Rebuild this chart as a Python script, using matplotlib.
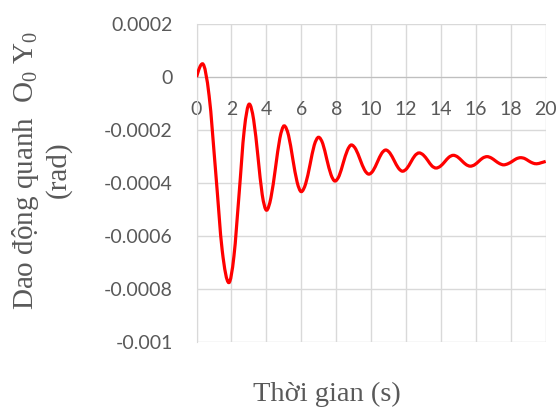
import numpy as np
import matplotlib.pyplot as plt
from matplotlib.path import Path
from matplotlib.patches import PathPatch

# Góc dao động quanh O0Y0 theo thời gian (µrad), các điểm trên đường cong
time_s = [0.00, 0.085, 0.17, 0.255, 0.34,
          0.72, 1.10, 1.47, 1.85,
          2.14, 2.44, 2.73, 3.02,
          3.27, 3.52, 3.76, 4.01,
          4.26, 4.52, 4.77, 5.02,
          5.27, 5.51, 5.76, 6.00,
          6.25, 6.50, 6.74, 6.99,
          7.23, 7.46, 7.70, 7.93,
          8.17, 8.40, 8.64, 8.87,
          9.12, 9.37, 9.62, 9.87,
          10.11, 10.36, 10.60, 10.84,
          11.08, 11.32, 11.56, 11.80,
          12.04, 12.28, 12.51, 12.75,
          12.99, 13.24, 13.48, 13.72,
          13.97, 14.22, 14.46, 14.71,
          14.95, 15.20, 15.44, 15.68,
          15.92, 16.16, 16.40, 16.64,
          16.88, 17.12, 17.35, 17.59,
          17.83, 18.08, 18.32, 18.56,
          18.79, 19.02, 19.25, 19.48,
          19.74, 20.00]

angle_urad = [0, 19, 35, 46, 50,
              -71, -362, -654, -775,
              -676, -438, -200, -102,
              -161, -302, -443, -502,
              -455, -343, -231, -184,
              -220, -308, -396, -432,
              -402, -330, -257, -227,
              -251, -310, -368, -392,
              -372, -324, -276, -256,
              -272, -311, -350, -366,
              -353, -320, -288, -275,
              -287, -315, -343, -355,
              -345, -320, -296, -286,
              -294, -314, -335, -343,
              -336, -319, -302, -295,
              -301, -316, -330, -336,
              -331, -318, -305, -300,
              -305, -316, -326, -331,
              -327, -318, -308, -304,
              -307, -316, -324, -327,
              -323, -318]

y_ticks = [0.0002, 0, -0.0002, -0.0004, -0.0006, -0.0008, -0.001]
y_tick_labels = ["0.0002", "0", "-0.0002", "-0.0004", "-0.0006", "-0.0008", "-0.001"]
x_ticks = list(range(0, 21, 2))


def smooth_path(x, y):
    # smoothed line (cubic Bezier through every point, flat at turning points)
    x = np.asarray(x, float)
    y = np.asarray(y, float)
    n = len(x)
    m = np.zeros(n)
    for i in range(1, n - 1):
        d0 = (y[i] - y[i - 1]) / (x[i] - x[i - 1])
        d1 = (y[i + 1] - y[i]) / (x[i + 1] - x[i])
        m[i] = 0 if d0 * d1 <= 0 else (y[i + 1] - y[i - 1]) / (x[i + 1] - x[i - 1])
    m[0] = (y[1] - y[0]) / (x[1] - x[0])
    m[-1] = (y[-1] - y[-2]) / (x[-1] - x[-2])
    verts = [(x[0], y[0])]
    codes = [Path.MOVETO]
    for i in range(n - 1):
        h = x[i + 1] - x[i]
        verts += [(x[i] + h / 3, y[i] + m[i] * h / 3),
                  (x[i + 1] - h / 3, y[i + 1] - m[i + 1] * h / 3),
                  (x[i + 1], y[i + 1])]
        codes += [Path.CURVE4] * 3
    return Path(verts, codes)


plt.rcParams["mathtext.fontset"] = "custom"
plt.rcParams["mathtext.rm"] = "Liberation Serif"
plt.rcParams["mathtext.it"] = "Liberation Serif:italic"

gray = "#595959"
angle = np.array(angle_urad) * 1e-6

fig = plt.figure(figsize=(5.6, 4.07), dpi=100)
ax = fig.add_axes([0.351, 0.159, 0.6235, 0.782])

ax.add_patch(PathPatch(smooth_path(time_s, angle), facecolor="none",
                       edgecolor="#ff0000", lw=2.3, zorder=3))

ax.set_xlim(0, 20)
ax.set_ylim(-0.001, 0.0002)
ax.set_xticks(x_ticks)
ax.set_yticks(y_ticks)
ax.set_yticklabels(y_tick_labels)
ax.grid(True, color="#d9d9d9", lw=1.0)
ax.set_axisbelow(True)

for side in ["top", "right"]:
    ax.spines[side].set_visible(False)
ax.spines["left"].set_color("#d9d9d9")
ax.spines["bottom"].set_position(("data", 0))
ax.spines["bottom"].set_color("#bfbfbf")

ax.tick_params(axis="both", length=0, labelcolor=gray, labelsize=14)
ax.tick_params(axis="y", pad=17)
ax.tick_params(axis="x", pad=17.5)
for lbl in ax.get_xticklabels() + ax.get_yticklabels():
    lbl.set_fontfamily("Lato")

fig.text(327 / 560, 1 - 401 / 407, "Thời gian (s)", ha="center", va="baseline",
         fontsize=20.5, color=gray, family="Liberation Serif")
fig.text(41 / 560, 1 - 170 / 407, "Dao động quanh  O$_0$ Y$_0$\n(rad)",
         rotation=90, ha="center", va="center", multialignment="center",
         linespacing=1.15, fontsize=21, color=gray, family="Liberation Serif")

fig.savefig("out.png", dpi=100)
